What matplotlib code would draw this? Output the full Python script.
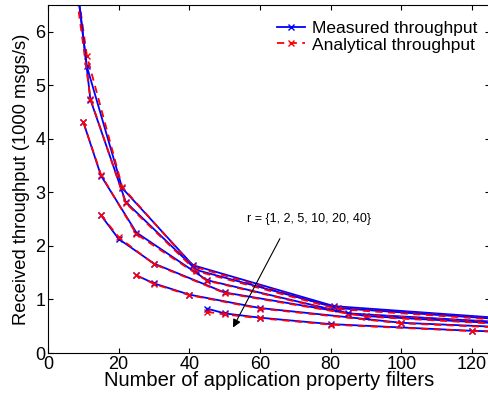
import matplotlib
matplotlib.use("Agg")
import matplotlib.pyplot as plt

plt.rcParams['font.family'] = ['Liberation Sans', 'DejaVu Sans']

# replication grades
r_values = [1, 2, 5, 10, 20, 40]
# number of application property filters for each r
n_r1 = [6, 11, 21, 41, 81, 161]
n_r2 = [7, 12, 22, 42, 82, 162]
n_r5 = [10, 15, 25, 45, 85, 165]
n_r10 = [15, 20, 30, 50, 90, 170]
n_r20 = [25, 30, 40, 60, 100, 180]
n_r40 = [45, 50, 60, 80, 120, 200]

# measured throughput (1000 msgs/s)
meas_r1 = [8.0, 5.35, 3.08, 1.64, 0.875, 0.50]
meas_r2 = [7.6, 4.73, 2.82, 1.55, 0.84, 0.48]
meas_r5 = [4.31, 3.31, 2.25, 1.36, 0.74, 0.44]
meas_r10 = [2.57, 2.13, 1.67, 1.13, 0.69, 0.40]
meas_r20 = [1.45, 1.30, 1.09, 0.84, 0.565, 0.34]
meas_r40 = [0.83, 0.74, 0.66, 0.54, 0.415, 0.28]

# analytical throughput (1000 msgs/s)
ana_r1 = [7.9, 5.55, 3.10, 1.62, 0.85, 0.49]
ana_r2 = [7.2, 4.75, 2.80, 1.53, 0.82, 0.47]
ana_r5 = [4.31, 3.33, 2.22, 1.35, 0.73, 0.43]
ana_r10 = [2.58, 2.16, 1.66, 1.12, 0.68, 0.39]
ana_r20 = [1.45, 1.29, 1.08, 0.83, 0.555, 0.33]
ana_r40 = [0.77, 0.72, 0.65, 0.53, 0.41, 0.27]

x_ticks = [0, 20, 40, 60, 80, 100, 120]
y_ticks = [0, 1, 2, 3, 4, 5, 6]

ns = [n_r1, n_r2, n_r5, n_r10, n_r20, n_r40]
meas = [meas_r1, meas_r2, meas_r5, meas_r10, meas_r20, meas_r40]
ana = [ana_r1, ana_r2, ana_r5, ana_r10, ana_r20, ana_r40]

fig = plt.figure(figsize=(4.89, 4.03), dpi=100)
ax = fig.add_axes([0.0982, 0.124, 0.903, 0.864])

for i, (n, m, a) in enumerate(zip(ns, meas, ana)):
    ax.plot(n, m, color='blue', linestyle='-', marker='x', markersize=5,
            mew=1.0, lw=1.3, label='Measured throughput' if i == 0 else None)
    ax.plot(n, a, color='red', linestyle='--', marker='x', markersize=5,
            mew=1.0, lw=1.3, dashes=(4, 3),
            label='Analytical throughput' if i == 0 else None)

ax.set_xlim(0, 125)
ax.set_ylim(0, 6.5)
ax.set_xticks(x_ticks)
ax.set_yticks(y_ticks)
ax.tick_params(direction='in', top=True, right=True, length=3.5, width=0.8,
               labelsize=13, pad=2)
for s in ax.spines.values():
    s.set_linewidth(0.8)

ax.set_xlabel('Number of application property filters', fontsize=14.5, labelpad=-1)
ax.set_ylabel('Received throughput (1000 msgs/s)', fontsize=13.2, labelpad=4)

ax.annotate('', xy=(52, 0.43), xytext=(66, 2.18),
            arrowprops=dict(arrowstyle='-|>', color='k', lw=0.8,
                            mutation_scale=12))
ax.text(73.9, 2.50, 'r = {1, 2, 5, 10, 20, 40}', fontsize=9,
        ha='center', va='center')

ax.legend(loc='upper right', bbox_to_anchor=(1.0, 0.99), frameon=False,
          fontsize=12.5, handlelength=1.6, handletextpad=0.4,
          labelspacing=0.1, borderaxespad=0.3)

fig.savefig('out.png', dpi=100)
